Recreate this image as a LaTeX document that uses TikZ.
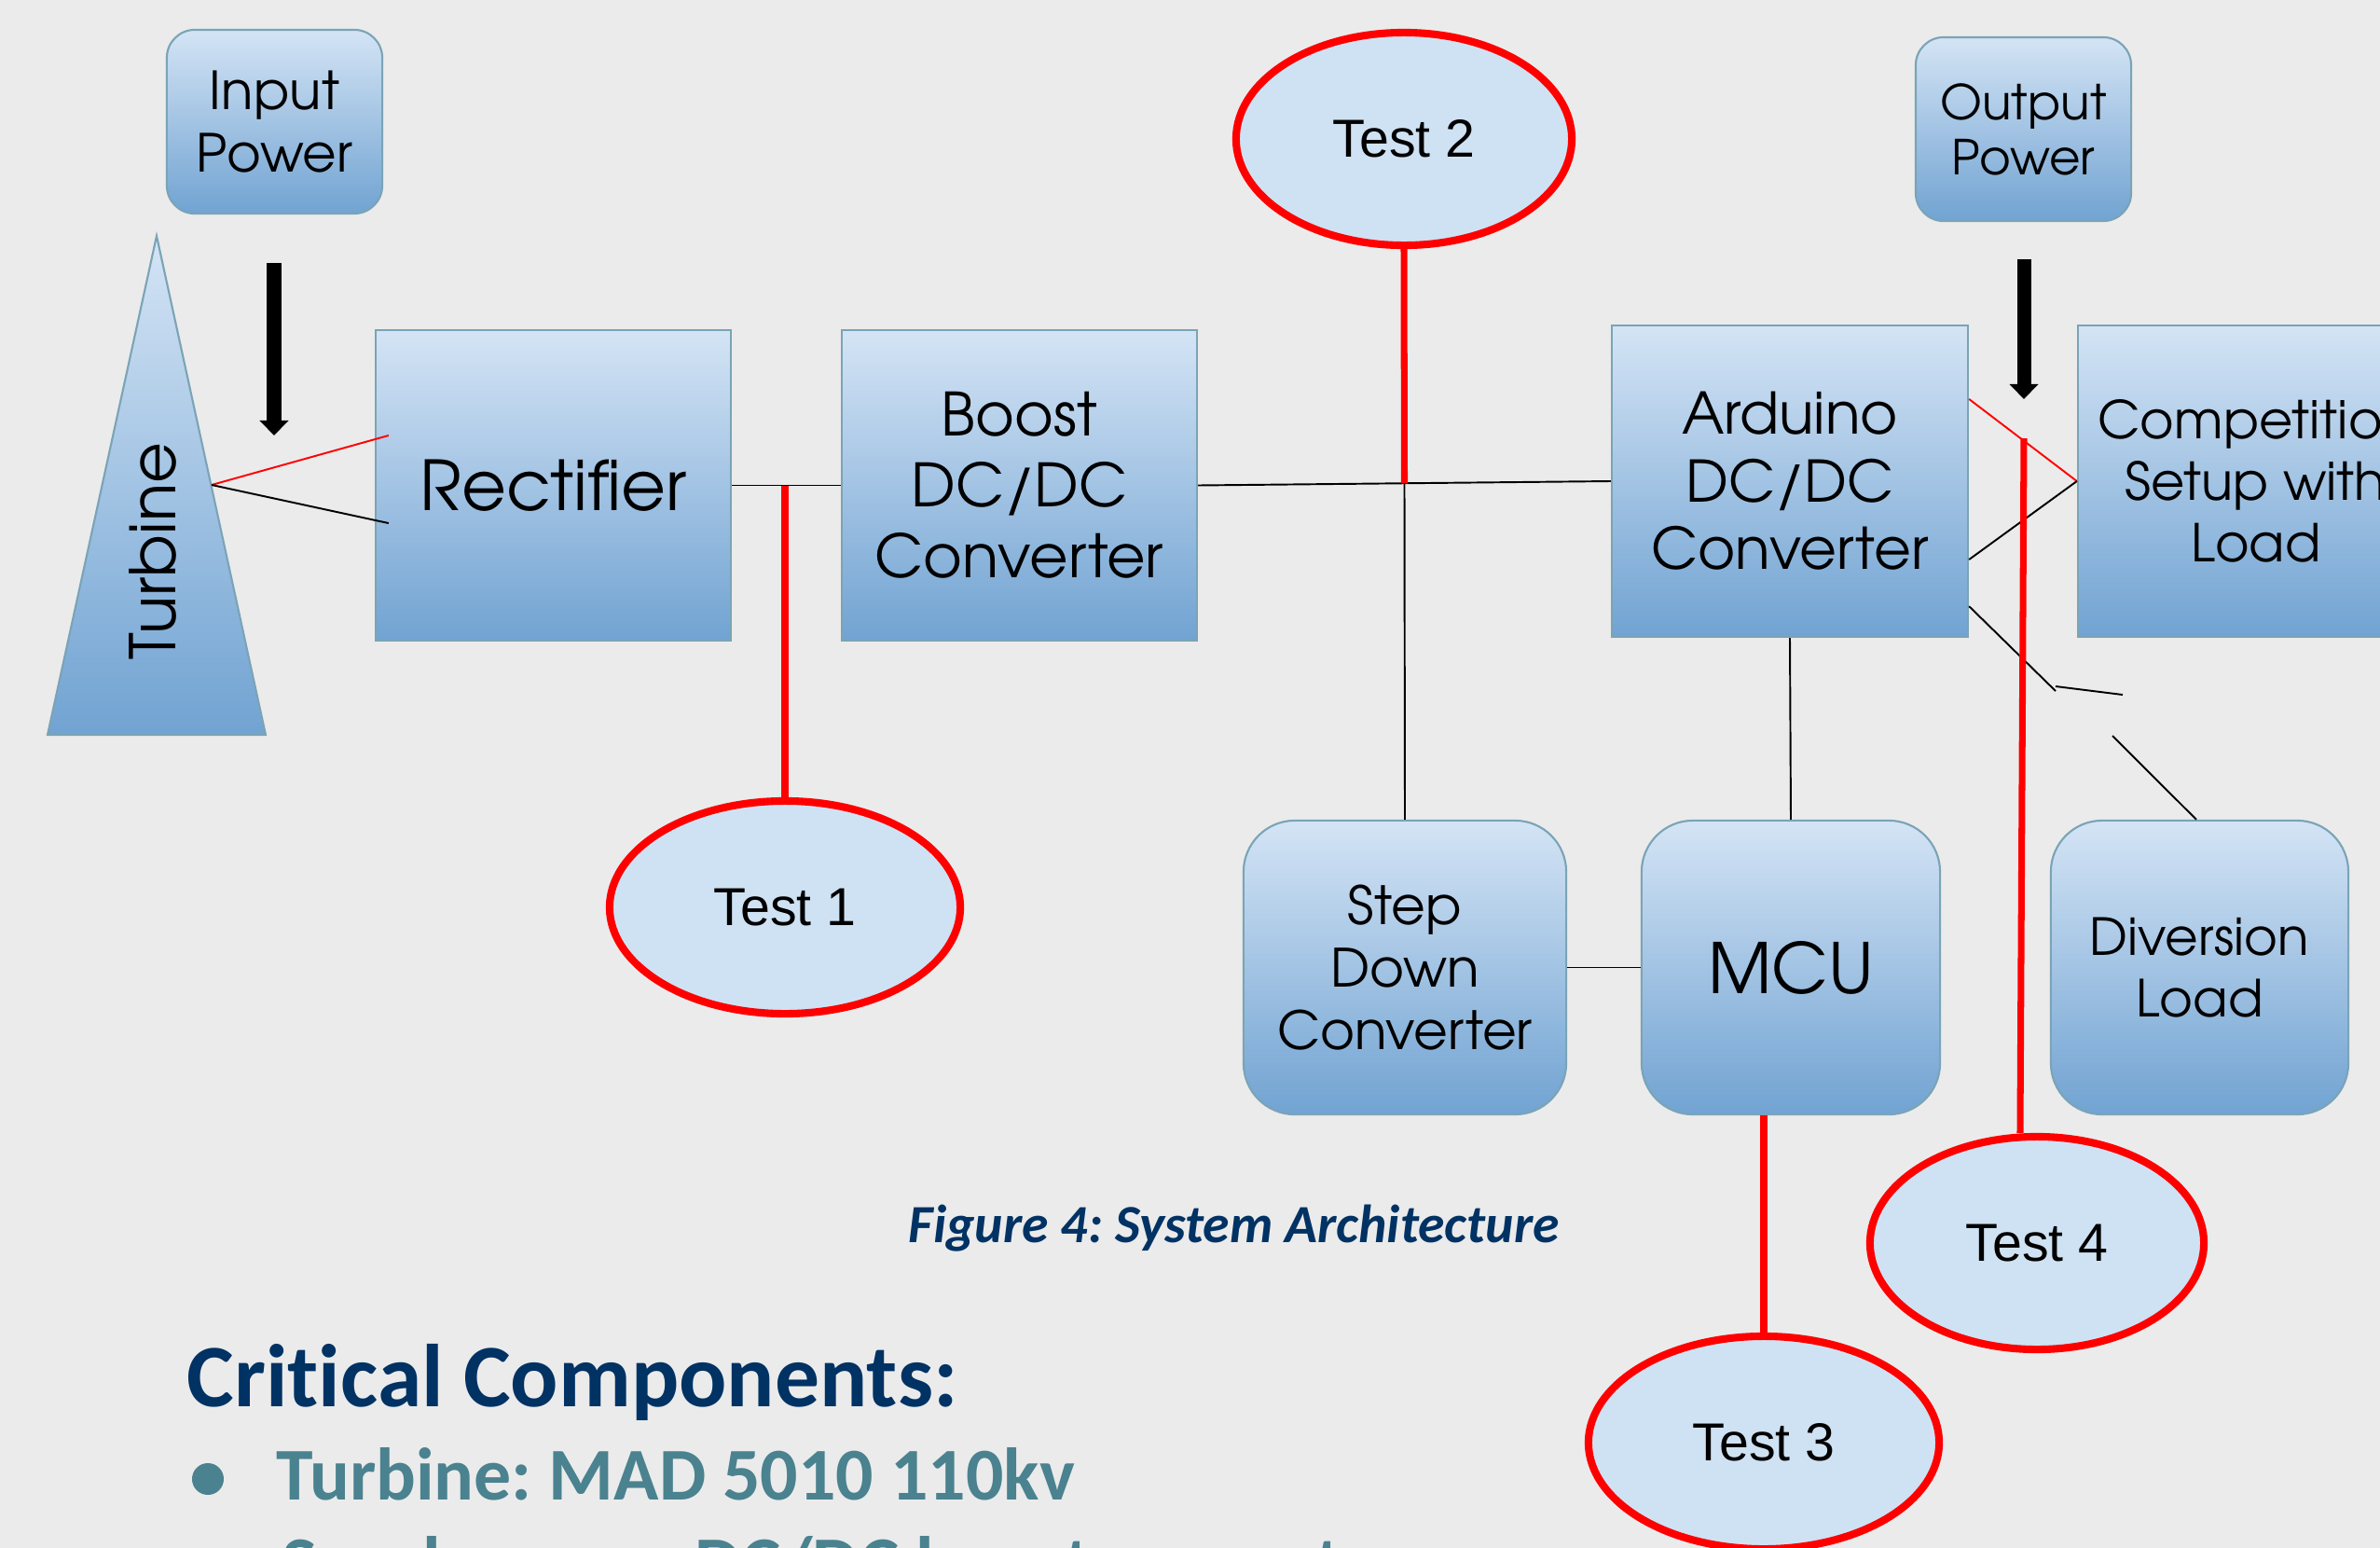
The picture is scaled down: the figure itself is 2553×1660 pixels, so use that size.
\documentclass[tikz,border=0pt]{standalone}
\usepackage{fontspec}
\setmainfont{Liberation Sans}
\newfontfamily\cgfont{TeX Gyre Adventor}
\newfontfamily\carl[Ligatures=NoCommon]{Carlito}
\usetikzlibrary{shapes.geometric,arrows.meta,calc}
\definecolor{bg}{RGB}{235,235,235}
\definecolor{boxtop}{RGB}{212,228,245}
\definecolor{boxbot}{RGB}{113,163,210}
\definecolor{boxline}{RGB}{122,164,182}
\definecolor{testfill}{RGB}{207,226,243}
\definecolor{navytxt}{RGB}{0,50,100}
\definecolor{tealtxt}{RGB}{74,130,143}
\tikzset{
  sqbox/.style={draw=boxline, line width=0.6pt, top color=boxtop, bottom color=boxbot,
    shape=rectangle, inner sep=0pt, align=center, text=black,
    font=\cgfont\fontsize{17.5}{21}\selectfont},
  rbox/.style={sqbox, rounded corners=0.3cm},
  bigrbox/.style={sqbox, rounded corners=0.55cm},
  testnode/.style={ellipse, draw=red, line width=2.3pt, fill=testfill, inner sep=0pt,
    minimum height=2.28cm, font=\fontsize{16.3}{19}\selectfont},
  wire/.style={black, line width=0.55pt},
  rwire/.style={red, line width=0.55pt},
  probe/.style={red, line width=2pt},
  bigarrow/.style={black, line width=0.15cm, -{Triangle[width=0.3cm,length=0.16cm]}},
  txt/.style={anchor=base west, inner sep=0pt}
}
\frenchspacing
\begin{document}
\begin{tikzpicture}[x=0.01cm,y=-0.01cm]
\useasboundingbox (0,0) rectangle (2553,1660);
\clip (0,0) rectangle (2553,1660);
\fill[bg] (0,0) rectangle (2553,1660);

% turbine
\shade[top color=boxtop, bottom color=boxbot] (168,253) -- (285,788) -- (51,788) -- cycle;
\draw[boxline, line width=0.6pt] (168,253) -- (285,788) -- (51,788) -- cycle;
\node[rotate=90, inner sep=0pt, font=\cgfont\fontsize{19.2}{23}\selectfont] (turb) at (164,591) {Turbine};
\coordinate (tb) at (227,520);

% boxes
\node[rbox, minimum width=2.31cm, minimum height=1.97cm, font=\cgfont\fontsize{16}{19}\selectfont] (inp) at (294.5,130.5) {Input\\Power};
\node[rbox, minimum width=2.31cm, minimum height=1.97cm, font=\cgfont\fontsize{14.7}{16.8}\selectfont] (outp) at (2170.5,138.5) {Output\\Power};
\node[sqbox, minimum width=3.81cm, minimum height=3.33cm, font=\cgfont\fontsize{21}{25}\selectfont] (rect) at (593.5,520.5) {Rectifier};
\node[sqbox, minimum width=3.81cm, minimum height=3.33cm, font=\cgfont\fontsize{18.2}{21.6}\selectfont] (boost) at (1093.5,520.5) {Boost\\DC/DC\\Converter};
\node[sqbox, minimum width=3.82cm, minimum height=3.34cm, font=\cgfont\fontsize{17.5}{20.6}\selectfont] (ard) at (1920,516) {Arduino\\DC/DC\\Converter};
\node[sqbox, minimum width=3.82cm, minimum height=3.34cm, font=\cgfont\fontsize{15.9}{18.8}\selectfont] (comp) at (2420,516) {Competition\\Setup with\\Load};
\node[bigrbox, minimum width=3.46cm, minimum height=3.15cm, font=\cgfont\fontsize{16.1}{19}\selectfont] (step) at (1507,1037.5) {Step\\Down\\Converter};
\node[bigrbox, minimum width=3.20cm, minimum height=3.15cm, font=\cgfont\fontsize{21.2}{25}\selectfont] (mcu) at (1921,1037.5) {MCU};
\node[bigrbox, minimum width=3.19cm, minimum height=3.15cm, font=\cgfont\fontsize{15.6}{19}\selectfont] (div) at (2359.5,1037.5) {Diversion\\Load};

% test ellipses
\node[testnode, minimum width=3.76cm] (t1) at (842,973) {Test 1};
\node[testnode, minimum width=3.60cm] (t2) at (1506,149) {Test 2};
\node[testnode, minimum width=3.76cm] (t3) at (1892,1547) {Test 3};
\node[testnode, minimum width=3.58cm] (t4) at (2185,1333) {Test 4};

% wires
\draw[rwire] (tb) -- ([xshift=0.15cm,yshift=0.535cm]rect.west);
\draw[wire] (tb) -- ([xshift=0.15cm,yshift=-0.405cm]rect.west);
\draw[wire] (rect.east) -- (boost.west);
\draw[wire] (boost.east) -- (ard.west);
\coordinate (j2) at ($(boost.east)!0.5!(ard.west)$);
\draw[wire] (j2) -- (step.north);
\draw[wire] (ard.south) -- (mcu.north);
\draw[wire] (step.east) -- (mcu.west);
\draw[rwire] ([yshift=0.88cm]ard.east) -- (comp.west);
\draw[wire] ([yshift=-0.84cm]ard.east) -- (comp.west);
\coordinate (sw1) at (2205,741);
\coordinate (sw2) at (2205,736);
\coordinate (sw3) at (2277,745);
\coordinate (sw4) at (2266,789);
\draw[wire] ([yshift=-1.34cm]ard.east) -- (sw1);
\draw[wire] (sw2) -- (sw3);
\draw[wire] (sw4) -- ([xshift=-0.035cm]div.north);

% probes
\draw[probe] (t1.north) -- (t1.north |- rect.east);
\draw[probe] (t2.south) -- (j2);
\draw[probe] (t3.north) -- (t3.north |- mcu.south);
\coordinate (p4) at (2171,470);
\draw[probe] (p4) -- ([xshift=-0.18cm]t4.north);

% power arrows
\coordinate (a1s) at (294,282);
\coordinate (a1e) at (294,467);
\draw[bigarrow] (a1s) -- (a1e);
\coordinate (a2s) at (2171,278);
\coordinate (a2e) at (2171,428);
\draw[bigarrow] (a2s) -- (a2e);

% texts
\node[txt, text=navytxt, font=\carl\bfseries\itshape\fontsize{16.4}{20}\selectfont] (cap) at (974,1332) {Figure 4: System Architecture};
\node[txt, text=navytxt, font=\carl\bfseries\fontsize{27.2}{32}\selectfont] (crit) at (200,1508) {Critical Components:};
\fill[tealtxt] (223,1586) circle (0.17cm);
\node[txt, text=tealtxt, font=\carl\bfseries\fontsize{22.7}{27}\selectfont] (b1) at (296,1608) {Turbine: MAD 5010 110kv};
\fill[tealtxt] (223,1681) circle (0.17cm);
\node[txt, text=tealtxt, font=\carl\bfseries\fontsize{22.7}{27}\selectfont] (b2) at (302,1703) {Synchronous DC/DC boost converter};
\end{tikzpicture}
\end{document}
